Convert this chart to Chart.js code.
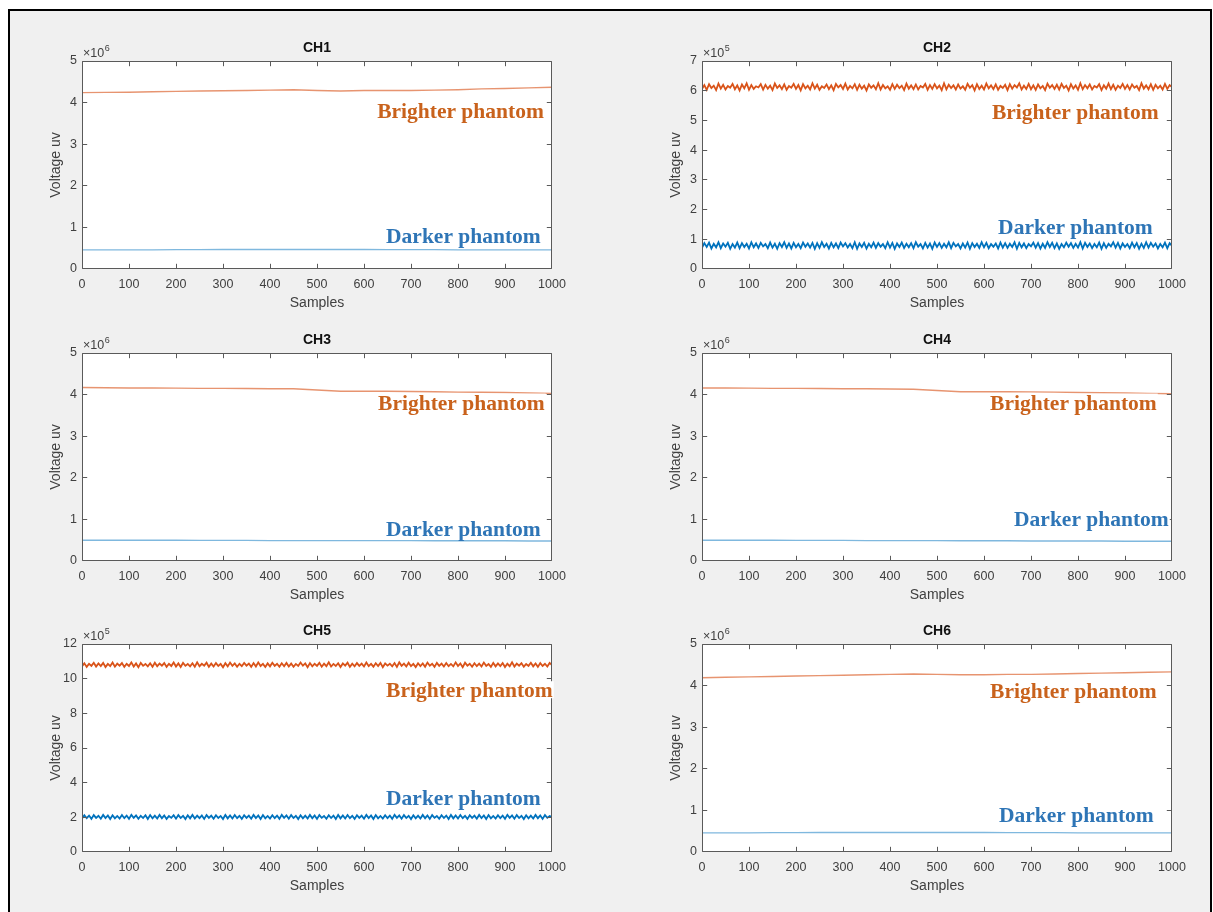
<!DOCTYPE html>
<html>
<head>
<meta charset="utf-8">
<title>Phantom channel voltages</title>
<script src="https://cdn.jsdelivr.net/npm/chart.js@4.4.1/dist/chart.umd.min.js"></script>
<style>
  html, body { margin: 0; padding: 0; background: #ffffff; width: 1213px; height: 912px; overflow: hidden; }
  #frame { position: absolute; left: 8px; top: 9px; width: 1204px; height: 1000px;
           box-sizing: border-box; border: 2px solid #000; background: #f0f0f0; }
  .panel { position: absolute; }
</style>
</head>
<body>
<div id="frame"></div>

<script>
// ---- sample positions -------------------------------------------------------
const samplesCoarse = [0, 50, 100, 150, 200, 250, 300, 350, 400, 450, 500,
                       550, 600, 650, 700, 750, 800, 850, 900, 950, 1000];
const samplesFine = [
  0, 5, 10, 15, 20, 25, 30, 35, 40, 45, 50, 55, 60, 65, 70, 75, 80, 85, 90, 95,
  100, 105, 110, 115, 120, 125, 130, 135, 140, 145, 150, 155, 160, 165, 170, 175, 180, 185, 190, 195,
  200, 205, 210, 215, 220, 225, 230, 235, 240, 245, 250, 255, 260, 265, 270, 275, 280, 285, 290, 295,
  300, 305, 310, 315, 320, 325, 330, 335, 340, 345, 350, 355, 360, 365, 370, 375, 380, 385, 390, 395,
  400, 405, 410, 415, 420, 425, 430, 435, 440, 445, 450, 455, 460, 465, 470, 475, 480, 485, 490, 495,
  500, 505, 510, 515, 520, 525, 530, 535, 540, 545, 550, 555, 560, 565, 570, 575, 580, 585, 590, 595,
  600, 605, 610, 615, 620, 625, 630, 635, 640, 645, 650, 655, 660, 665, 670, 675, 680, 685, 690, 695,
  700, 705, 710, 715, 720, 725, 730, 735, 740, 745, 750, 755, 760, 765, 770, 775, 780, 785, 790, 795,
  800, 805, 810, 815, 820, 825, 830, 835, 840, 845, 850, 855, 860, 865, 870, 875, 880, 885, 890, 895,
  900, 905, 910, 915, 920, 925, 930, 935, 940, 945, 950, 955, 960, 965, 970, 975, 980, 985, 990, 995,
  1000];

// ---- channel readings (in units of 10^exponent µV) ---------------------------
// CH1, ×10^6
const ch1Bright = [4.24, 4.245, 4.25, 4.26, 4.27, 4.28, 4.285, 4.29, 4.30, 4.31, 4.29,
                   4.28, 4.29, 4.29, 4.29, 4.30, 4.31, 4.33, 4.34, 4.355, 4.37];
const ch1Dark   = [0.46, 0.46, 0.46, 0.46, 0.465, 0.465, 0.47, 0.47, 0.47, 0.47, 0.47,
                   0.47, 0.47, 0.465, 0.465, 0.465, 0.46, 0.46, 0.46, 0.46, 0.46];

// CH2, ×10^5
const ch2Bright = [
  6.06, 6.19, 6.03, 6.22, 6.09, 6.17, 6.02, 6.24, 6.07, 6.20,
  6.04, 6.16, 6.10, 6.23, 6.05, 6.18, 6.01, 6.21, 6.08, 6.25,
  6.03, 6.19, 6.06, 6.15, 6.11, 6.22, 6.04, 6.20, 6.07, 6.17,
  6.02, 6.24, 6.09, 6.18, 6.05, 6.21, 6.03, 6.16, 6.10, 6.23,
  6.06, 6.19, 6.01, 6.22, 6.08, 6.17, 6.04, 6.25, 6.07, 6.20,
  6.03, 6.15, 6.09, 6.21, 6.05, 6.18, 6.02, 6.23, 6.11, 6.19,
  6.06, 6.24, 6.04, 6.16, 6.08, 6.22, 6.03, 6.20, 6.07, 6.17,
  6.01, 6.21, 6.10, 6.18, 6.05, 6.25, 6.04, 6.19, 6.08, 6.15,
  6.03, 6.22, 6.06, 6.20, 6.09, 6.17, 6.02, 6.24, 6.07, 6.18,
  6.05, 6.21, 6.04, 6.16, 6.11, 6.23, 6.03, 6.19, 6.06, 6.22,
  6.08, 6.17, 6.02, 6.25, 6.05, 6.20, 6.09, 6.18, 6.04, 6.21,
  6.07, 6.15, 6.03, 6.23, 6.10, 6.19, 6.01, 6.22, 6.06, 6.17,
  6.04, 6.24, 6.08, 6.18, 6.05, 6.21, 6.03, 6.16, 6.09, 6.20,
  6.02, 6.22, 6.07, 6.19, 6.11, 6.25, 6.04, 6.17, 6.06, 6.23,
  6.05, 6.18, 6.03, 6.21, 6.08, 6.16, 6.02, 6.24, 6.10, 6.19,
  6.06, 6.20, 6.04, 6.23, 6.09, 6.17, 6.01, 6.22, 6.07, 6.18,
  6.03, 6.25, 6.05, 6.19, 6.08, 6.21, 6.04, 6.16, 6.11, 6.22,
  6.02, 6.18, 6.07, 6.24, 6.05, 6.20, 6.03, 6.17, 6.09, 6.23,
  6.06, 6.19, 6.04, 6.21, 6.10, 6.16, 6.02, 6.25, 6.07, 6.18,
  6.05, 6.22, 6.03, 6.20, 6.08, 6.17, 6.04, 6.23, 6.06, 6.19,
  6.12];
const ch2Dark = [
  0.71, 0.87, 0.74, 0.89, 0.69, 0.85, 0.73, 0.90, 0.70, 0.86,
  0.75, 0.88, 0.68, 0.84, 0.72, 0.89, 0.70, 0.87, 0.74, 0.85,
  0.69, 0.90, 0.73, 0.86, 0.71, 0.88, 0.76, 0.84, 0.70, 0.89,
  0.72, 0.85, 0.68, 0.87, 0.74, 0.90, 0.71, 0.86, 0.69, 0.88,
  0.73, 0.84, 0.70, 0.89, 0.75, 0.86, 0.72, 0.88, 0.68, 0.87,
  0.71, 0.90, 0.74, 0.85, 0.69, 0.88, 0.73, 0.86, 0.70, 0.89,
  0.76, 0.87, 0.72, 0.84, 0.70, 0.90, 0.68, 0.86, 0.74, 0.88,
  0.69, 0.85, 0.73, 0.89, 0.71, 0.87, 0.75, 0.84, 0.70, 0.90,
  0.72, 0.88, 0.68, 0.86, 0.74, 0.89, 0.71, 0.85, 0.73, 0.87,
  0.70, 0.90, 0.75, 0.84, 0.69, 0.88, 0.72, 0.86, 0.68, 0.89,
  0.74, 0.87, 0.71, 0.85, 0.73, 0.90, 0.70, 0.88, 0.76, 0.84,
  0.69, 0.86, 0.72, 0.89, 0.68, 0.87, 0.74, 0.85, 0.71, 0.90,
  0.73, 0.88, 0.70, 0.84, 0.75, 0.86, 0.69, 0.89, 0.72, 0.87,
  0.71, 0.85, 0.74, 0.90, 0.68, 0.88, 0.73, 0.86, 0.70, 0.84,
  0.76, 0.89, 0.72, 0.87, 0.69, 0.85, 0.71, 0.90, 0.74, 0.88,
  0.70, 0.86, 0.68, 0.84, 0.73, 0.89, 0.75, 0.87, 0.71, 0.85,
  0.72, 0.90, 0.69, 0.88, 0.74, 0.86, 0.70, 0.84, 0.73, 0.89,
  0.68, 0.87, 0.71, 0.85, 0.76, 0.90, 0.72, 0.88, 0.69, 0.86,
  0.74, 0.84, 0.70, 0.89, 0.73, 0.87, 0.68, 0.85, 0.71, 0.90,
  0.72, 0.88, 0.75, 0.86, 0.69, 0.84, 0.73, 0.89, 0.70, 0.87,
  0.78];

// CH3, ×10^6
const ch3Bright = [4.17, 4.165, 4.16, 4.16, 4.155, 4.15, 4.15, 4.145, 4.14, 4.14, 4.11,
                   4.08, 4.08, 4.08, 4.075, 4.07, 4.06, 4.055, 4.05, 4.04, 4.03];
const ch3Dark   = [0.50, 0.50, 0.50, 0.50, 0.50, 0.495, 0.495, 0.495, 0.49, 0.49, 0.49,
                   0.49, 0.49, 0.49, 0.49, 0.485, 0.485, 0.485, 0.485, 0.48, 0.48];

// CH4, ×10^6
const ch4Bright = [4.16, 4.16, 4.155, 4.15, 4.15, 4.145, 4.14, 4.14, 4.135, 4.13, 4.10,
                   4.07, 4.07, 4.07, 4.065, 4.06, 4.05, 4.045, 4.04, 4.03, 4.02];
const ch4Dark   = [0.50, 0.50, 0.50, 0.50, 0.495, 0.495, 0.495, 0.49, 0.49, 0.49, 0.49,
                   0.485, 0.485, 0.485, 0.48, 0.48, 0.48, 0.48, 0.475, 0.475, 0.475];

// CH5, ×10^5
const ch5Bright = [
  10.71, 10.89, 10.68, 10.86, 10.74, 10.92, 10.70, 10.88, 10.73, 10.91,
  10.67, 10.85, 10.72, 10.93, 10.69, 10.87, 10.75, 10.90, 10.68, 10.86,
  10.73, 10.94, 10.70, 10.88, 10.66, 10.91, 10.74, 10.85, 10.71, 10.89,
  10.69, 10.92, 10.72, 10.87, 10.75, 10.90, 10.68, 10.86, 10.73, 10.93,
  10.70, 10.88, 10.67, 10.91, 10.74, 10.85, 10.71, 10.89, 10.69, 10.94,
  10.72, 10.86, 10.75, 10.92, 10.68, 10.87, 10.70, 10.90, 10.73, 10.85,
  10.66, 10.89, 10.71, 10.93, 10.74, 10.88, 10.69, 10.86, 10.72, 10.91,
  10.75, 10.87, 10.68, 10.90, 10.70, 10.94, 10.73, 10.85, 10.67, 10.88,
  10.71, 10.92, 10.74, 10.86, 10.69, 10.89, 10.72, 10.91, 10.70, 10.87,
  10.68, 10.85, 10.73, 10.93, 10.75, 10.88, 10.66, 10.90, 10.71, 10.86,
  10.74, 10.91, 10.69, 10.87, 10.72, 10.94, 10.70, 10.85, 10.73, 10.89,
  10.67, 10.88, 10.75, 10.92, 10.68, 10.86, 10.71, 10.90, 10.74, 10.87,
  10.70, 10.93, 10.72, 10.85, 10.69, 10.89, 10.73, 10.91, 10.66, 10.88,
  10.75, 10.86, 10.71, 10.90, 10.68, 10.94, 10.74, 10.87, 10.70, 10.92,
  10.72, 10.85, 10.67, 10.89, 10.73, 10.88, 10.69, 10.93, 10.75, 10.86,
  10.68, 10.91, 10.74, 10.87, 10.70, 10.90, 10.72, 10.85, 10.71, 10.94,
  10.73, 10.88, 10.66, 10.92, 10.75, 10.86, 10.69, 10.89, 10.72, 10.87,
  10.70, 10.93, 10.74, 10.85, 10.68, 10.91, 10.71, 10.88, 10.73, 10.90,
  10.67, 10.86, 10.72, 10.94, 10.70, 10.87, 10.75, 10.89, 10.69, 10.85,
  10.74, 10.92, 10.71, 10.88, 10.68, 10.90, 10.73, 10.86, 10.70, 10.91,
  10.78];
const ch5Dark = [
  1.93, 2.12, 1.95, 2.10, 1.91, 2.13, 1.97, 2.09, 1.92, 2.14,
  1.96, 2.11, 1.90, 2.12, 1.94, 2.08, 1.93, 2.13, 1.95, 2.10,
  1.91, 2.14, 1.97, 2.11, 1.92, 2.09, 1.96, 2.12, 1.90, 2.13,
  1.94, 2.10, 1.93, 2.14, 1.95, 2.11, 1.91, 2.08, 1.97, 2.12,
  1.92, 2.13, 1.96, 2.09, 1.90, 2.12, 1.94, 2.14, 1.93, 2.10,
  1.95, 2.11, 1.91, 2.13, 1.97, 2.10, 1.92, 2.12, 1.96, 2.08,
  1.90, 2.14, 1.94, 2.11, 1.93, 2.13, 1.95, 2.09, 1.91, 2.12,
  1.97, 2.10, 1.92, 2.14, 1.96, 2.11, 1.90, 2.13, 1.94, 2.08,
  1.93, 2.12, 1.95, 2.10, 1.91, 2.14, 1.97, 2.11, 1.92, 2.13,
  1.96, 2.09, 1.90, 2.12, 1.94, 2.10, 1.93, 2.14, 1.95, 2.11,
  1.91, 2.13, 1.97, 2.08, 1.92, 2.12, 1.96, 2.10, 1.90, 2.14,
  1.94, 2.11, 1.93, 2.13, 1.95, 2.09, 1.91, 2.12, 1.97, 2.10,
  1.92, 2.14, 1.96, 2.11, 1.90, 2.13, 1.94, 2.08, 1.93, 2.12,
  1.95, 2.10, 1.91, 2.14, 1.97, 2.11, 1.92, 2.13, 1.96, 2.09,
  1.90, 2.12, 1.94, 2.10, 1.93, 2.14, 1.95, 2.11, 1.91, 2.13,
  1.97, 2.08, 1.92, 2.12, 1.96, 2.10, 1.90, 2.14, 1.94, 2.11,
  1.93, 2.13, 1.95, 2.09, 1.91, 2.12, 1.97, 2.10, 1.92, 2.14,
  1.96, 2.11, 1.90, 2.13, 1.94, 2.08, 1.93, 2.12, 1.95, 2.10,
  1.91, 2.14, 1.97, 2.11, 1.92, 2.13, 1.96, 2.09, 1.90, 2.12,
  1.94, 2.10, 1.93, 2.14, 1.95, 2.11, 1.91, 2.13, 1.97, 2.08,
  2.02];

// CH6, ×10^6
const ch6Bright = [4.19, 4.20, 4.21, 4.22, 4.23, 4.24, 4.25, 4.26, 4.27, 4.28, 4.27,
                   4.26, 4.26, 4.27, 4.27, 4.28, 4.29, 4.30, 4.31, 4.32, 4.33];
const ch6Dark   = [0.46, 0.46, 0.46, 0.465, 0.465, 0.47, 0.47, 0.47, 0.47, 0.47, 0.47,
                   0.47, 0.47, 0.465, 0.465, 0.465, 0.46, 0.46, 0.46, 0.46, 0.46];

// ---- axis ticks ---------------------------------------------------------------
const xTicks = [0, 100, 200, 300, 400, 500, 600, 700, 800, 900, 1000];
const yTicks5  = [0, 1, 2, 3, 4, 5];
const yTicks7  = [0, 1, 2, 3, 4, 5, 6, 7];
const yTicks12 = [0, 2, 4, 6, 8, 10, 12];

// ---- text -----------------------------------------------------------------------
const channelNames = ['CH1', 'CH2', 'CH3', 'CH4', 'CH5', 'CH6'];
const brightLabel = 'Brighter phantom';
const darkLabel = 'Darker phantom';
const xTitle = 'Samples';
const yTitle = 'Voltage uv';

// ---- panel layout and styling ---------------------------------------------------
const PLOT_W = 470, PLOT_H = 208;
const PAD_LEFT = 60, PAD_TOP = 30, PAD_RIGHT = 30, PAD_BOTTOM = 50;
const COL_X = [82, 702];
const ROW_Y = [61, 353, 644];

const ORANGE = '#D95319', BLUE = '#0072BD';
const ORANGE_TEXT = '#C9621C', BLUE_TEXT = '#2E75B6';
const AXIS_COLOR = '#5a5a5a', TICK_TEXT = '#404040';
const SANS = '"Liberation Sans", Arial, Helvetica, sans-serif';
const SERIF = '"Liberation Serif", "Times New Roman", serif';

const panels = [
  { name: channelNames[0], exp: 6, yTicks: yTicks5, samples: samplesCoarse, bright: ch1Bright, dark: ch1Dark, noisy: false,
    brightAt: [628, 3.62], darkAt: [647, 0.63] },
  { name: channelNames[1], exp: 5, yTicks: yTicks7, samples: samplesFine, bright: ch2Bright, dark: ch2Dark, noisy: true,
    brightAt: [617, 5.04], darkAt: [630, 1.18] },
  { name: channelNames[2], exp: 6, yTicks: yTicks5, samples: samplesCoarse, bright: ch3Bright, dark: ch3Dark, noisy: false,
    brightAt: [630, 3.64], darkAt: [647, 0.59] },
  { name: channelNames[3], exp: 6, yTicks: yTicks5, samples: samplesCoarse, bright: ch4Bright, dark: ch4Dark, noisy: false,
    brightAt: [613, 3.64], darkAt: [664, 0.83] },
  { name: channelNames[4], exp: 5, yTicks: yTicks12, samples: samplesFine, bright: ch5Bright, dark: ch5Dark, noisy: true,
    brightAt: [647, 8.93], darkAt: [647, 2.71] },
  { name: channelNames[5], exp: 6, yTicks: yTicks5, samples: samplesCoarse, bright: ch6Bright, dark: ch6Dark, noisy: false,
    brightAt: [613, 3.71], darkAt: [632, 0.73] }
];

// Draws a MATLAB-style boxed axes: white plot area, box with inward ticks,
// exponent note, title, axis titles and the in-plot annotations.
const matlabAxes = {
  id: 'matlabAxes',
  beforeDraw(chart) {
    const { ctx, chartArea: a } = chart;
    ctx.save();
    ctx.fillStyle = '#ffffff';
    ctx.fillRect(a.left, a.top, a.right - a.left, a.bottom - a.top);
    ctx.restore();
  },
  afterDatasetsDraw(chart, args, o) {
    const { ctx, chartArea: a, scales: { x, y } } = chart;
    const L = a.left + 0.5, R = a.right - 0.5, T = a.top + 0.5, B = a.bottom - 0.5;
    const TL = 4.7;
    const clamp = (v, lo, hi) => Math.min(hi, Math.max(lo, v));
    ctx.save();
    ctx.strokeStyle = AXIS_COLOR;
    ctx.lineWidth = 1;
    ctx.beginPath();
    ctx.rect(L, T, R - L, B - T);
    x.ticks.forEach(t => {
      const px = clamp(Math.floor(x.getPixelForValue(t.value)) + 0.5, L, R);
      ctx.moveTo(px, B); ctx.lineTo(px, B - TL);
      ctx.moveTo(px, T); ctx.lineTo(px, T + TL);
    });
    y.ticks.forEach(t => {
      const py = clamp(Math.floor(y.getPixelForValue(t.value)) + 0.5, T, B);
      ctx.moveTo(L, py); ctx.lineTo(L + TL, py);
      ctx.moveTo(R, py); ctx.lineTo(R - TL, py);
    });
    ctx.stroke();

    // annotations placed in data coordinates (text boxes with a white fill
    // behind the letters, down to just under the baseline)
    ctx.font = 'bold 21.5px ' + SERIF;
    ctx.textBaseline = 'alphabetic';
    ctx.textAlign = 'left';
    o.notes.forEach(n => {
      const px = x.getPixelForValue(n.at[0]);
      const py = y.getPixelForValue(n.at[1]);
      const m = ctx.measureText(n.text);
      ctx.fillStyle = '#ffffff';
      ctx.fillRect(px - 1, py - m.actualBoundingBoxAscent - 1, m.width + 2,
                   m.actualBoundingBoxAscent + 2);
      ctx.fillStyle = n.color;
      ctx.fillText(n.text, px, py);
    });

    // exponent note above the y axis
    ctx.fillStyle = TICK_TEXT;
    ctx.font = '12.5px ' + SANS;
    ctx.textBaseline = 'alphabetic';
    const base = '\u00d710';
    ctx.fillText(base, a.left + 1, a.top - 4);
    const bw = ctx.measureText(base).width;
    ctx.font = '9px ' + SANS;
    ctx.fillText(String(o.exp), a.left + 1 + bw + 0.5, a.top - 10);

    // title
    const cx = (a.left + a.right) / 2;
    ctx.fillStyle = '#111111';
    ctx.font = 'bold 14px ' + SANS;
    ctx.textAlign = 'center';
    ctx.textBaseline = 'middle';
    ctx.fillText(o.title, cx, a.top - 12.5);

    // axis titles
    ctx.fillStyle = TICK_TEXT;
    ctx.font = '14px ' + SANS;
    ctx.fillText(xTitle, cx, a.bottom + 34);
    ctx.translate(a.left - 26, (a.top + a.bottom) / 2);
    ctx.rotate(-Math.PI / 2);
    ctx.fillText(yTitle, 0, 0);
    ctx.restore();
  }
};

panels.forEach((p, i) => {
  const col = i % 2, row = Math.floor(i / 2);
  const canvas = document.createElement('canvas');
  canvas.className = 'panel';
  const W = PAD_LEFT + PLOT_W + PAD_RIGHT, H = PAD_TOP + PLOT_H + PAD_BOTTOM;
  canvas.width = W; canvas.height = H;
  canvas.style.width = W + 'px'; canvas.style.height = H + 'px';
  canvas.style.left = (COL_X[col] - PAD_LEFT) + 'px';
  canvas.style.top = (ROW_Y[row] - PAD_TOP) + 'px';
  document.body.appendChild(canvas);

  const lw = p.noisy ? 1.8 : 1.4;
  const brightColor = p.noisy ? ORANGE : 'rgba(217,83,25,0.62)';
  const darkColor = p.noisy ? BLUE : 'rgba(0,114,189,0.5)';
  const yMax = p.yTicks[p.yTicks.length - 1];
  const yStep = p.yTicks[1] - p.yTicks[0];

  new Chart(canvas, {
    type: 'line',
    data: {
      labels: p.samples,
      datasets: [
        { label: brightLabel, data: p.bright, borderColor: brightColor, borderWidth: lw, pointRadius: 0, tension: 0 },
        { label: darkLabel, data: p.dark, borderColor: darkColor, borderWidth: lw, pointRadius: 0, tension: 0 }
      ]
    },
    options: {
      responsive: false,
      animation: false,
      events: [],
      layout: { padding: { left: 0, top: PAD_TOP, right: PAD_RIGHT, bottom: 0 } },
      plugins: {
        legend: { display: false },
        title: { display: false },
        tooltip: { enabled: false },
        matlabAxes: {
          title: p.name,
          exp: p.exp,
          notes: [
            { text: brightLabel, at: p.brightAt, color: ORANGE_TEXT },
            { text: darkLabel, at: p.darkAt, color: BLUE_TEXT }
          ]
        }
      },
      scales: {
        x: {
          type: 'linear', min: xTicks[0], max: xTicks[xTicks.length - 1],
          grid: { display: false, drawTicks: false },
          border: { display: false },
          ticks: { stepSize: xTicks[1] - xTicks[0], autoSkip: false, maxRotation: 0, padding: 8,
                   color: TICK_TEXT, font: { family: SANS, size: 12.5 },
                   callback: v => String(v) },
          afterFit(s) { s.height = PAD_BOTTOM; }
        },
        y: {
          type: 'linear', min: p.yTicks[0], max: yMax,
          grid: { display: false, drawTicks: false },
          border: { display: false },
          ticks: { stepSize: yStep, autoSkip: false, padding: 5,
                   color: TICK_TEXT, font: { family: SANS, size: 12.5 },
                   callback: v => String(v) },
          afterFit(s) { s.width = PAD_LEFT; }
        }
      }
    },
    plugins: [matlabAxes]
  });
});
</script>
</body>
</html>
